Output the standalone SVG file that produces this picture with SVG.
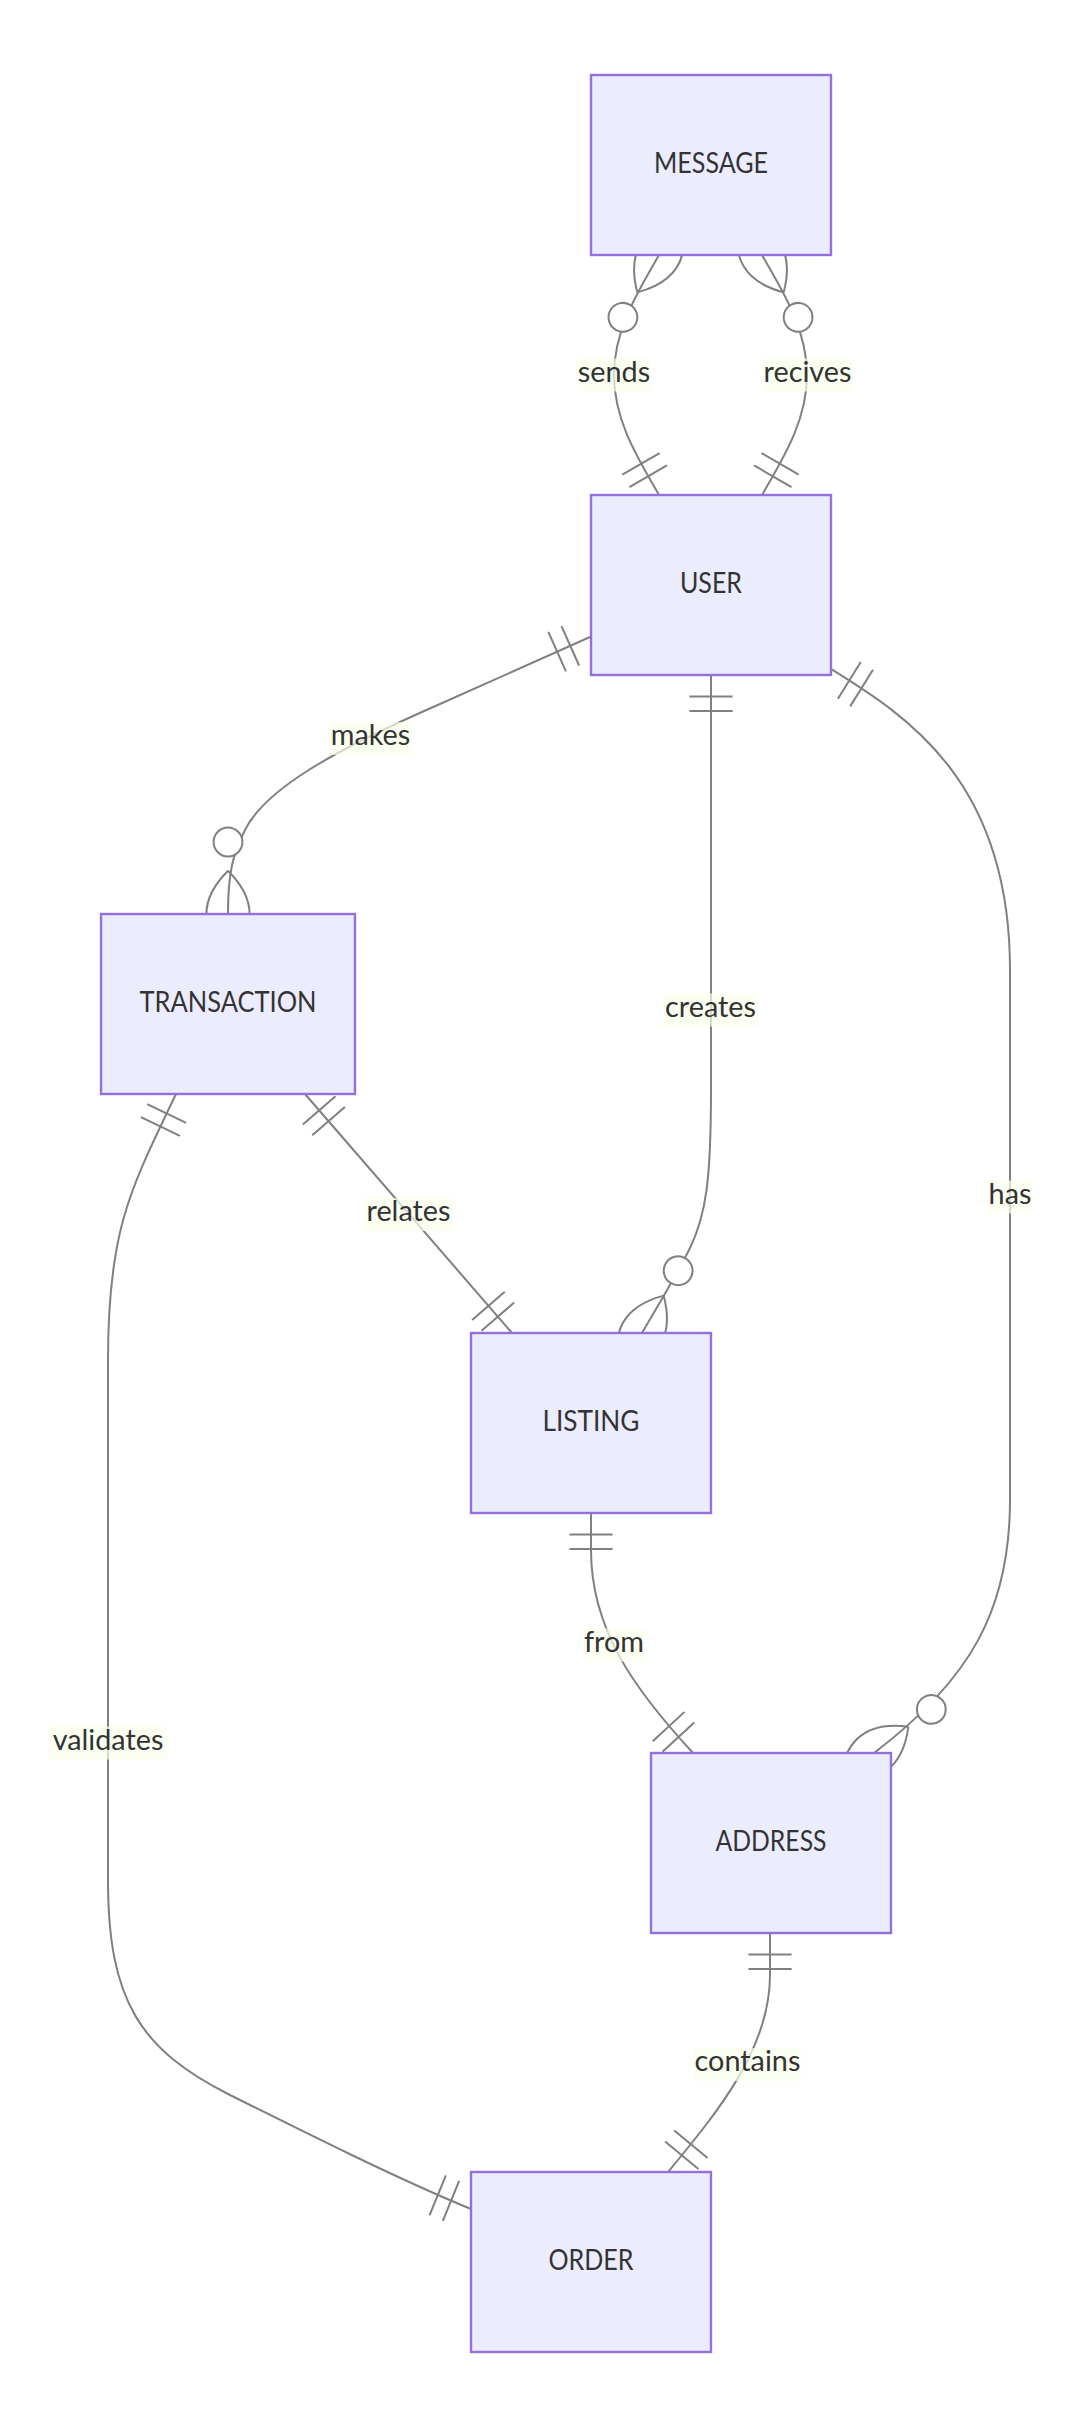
<svg xmlns="http://www.w3.org/2000/svg" width="1080" height="2428" viewBox="0 0 1080 2428">
<style>
.entity rect{fill:#ECECFF;stroke:#9370DB;stroke-width:2.4}
.entity text{font-family:Lato,"Liberation Sans",sans-serif;font-size:28.8px;fill:#333;text-anchor:middle}
.rel{fill:none;stroke:#808080;stroke-width:2;marker-start:url(#one)}
.rel.zm{marker-end:url(#zmany)}
.rel.oo{marker-end:url(#one)}
.lbl rect{fill:#f9ffec;opacity:0.7}
.lbl text{font-family:Lato,"Liberation Sans",sans-serif;font-size:28.8px;fill:#333;text-anchor:middle}
.mk{fill:none;stroke:#808080;stroke-width:2}
</style>
<defs>
<marker id="one" markerUnits="userSpaceOnUse" refX="43.2" refY="21.6" markerWidth="43.2" markerHeight="43.2" orient="auto-start-reverse" overflow="visible">
<path class="mk" d="M7.2,0 L7.2,43.2 M21.6,0 L21.6,43.2"/>
</marker>
<marker id="zmany" markerUnits="userSpaceOnUse" refX="93.6" refY="43.2" markerWidth="136.8" markerHeight="86.4" orient="auto-start-reverse" overflow="visible">
<circle cx="21.6" cy="43.2" r="14.4" fill="#ffffff" stroke="#808080" stroke-width="2"/>
<path class="mk" d="M50.4,43.2 Q93.6,0 136.8,43.2 Q93.6,86.4 50.4,43.2"/>
</marker>
</defs>
<rect width="1080" height="2428" fill="#ffffff"/>
<g id="connectors">
<path id="e-sends" class="rel zm" d="M659,495 C637,457 614,420 614,375 C614,330 637,293 659,255"/>
<path id="e-recives" class="rel zm" d="M762,495 C784,457 807,420 807,375 C807,330 784,293 762,255"/>
<path id="e-makes" class="rel zm" d="M590,637 L440,704 C330,752 265,790 245,830 C233,854 228,872 228,914"/>
<path id="e-creates" class="rel zm" d="M711,675 L711,1090 C711,1180 706,1215 690,1248 C676,1276 660,1302 642,1333"/>
<path id="e-has" class="rel zm" d="M831,669 C905,715 1010,780 1010,970 L1010,1500 C1010,1610 970,1680 874,1753"/>
<path id="e-relates" class="rel oo" d="M305,1094 L512,1333"/>
<path id="e-validates" class="rel oo" d="M176,1094 C130,1190 108,1230 108,1360 L108,1880 C108,2000 140,2050 230,2095 C300,2130 400,2180 471,2209"/>
<path id="e-from" class="rel oo" d="M591,1513 L591,1550 C591,1630 635,1690 693,1753"/>
<path id="e-contains" class="rel oo" d="M770,1933 L770,1975 C770,2050 715,2115 668,2172"/>
<g class="lbl" id="l-sends"><rect x="578.5" y="358.5" width="71" height="33"/><text x="614" y="382">sends</text></g>
<g class="lbl" id="l-recives"><rect x="762.5" y="358.5" width="90" height="33"/><text x="807.5" y="382">recives</text></g>
<g class="lbl" id="l-makes"><rect x="330" y="722" width="81" height="33"/><text x="370.5" y="745">makes</text></g>
<g class="lbl" id="l-relates"><rect x="364" y="1198" width="89" height="33"/><text x="408.5" y="1221">relates</text></g>
<g class="lbl" id="l-creates"><rect x="663" y="993.5" width="95" height="33"/><text x="710.5" y="1017">creates</text></g>
<g class="lbl" id="l-has"><rect x="988.5" y="1180.5" width="43" height="33"/><text x="1010" y="1204">has</text></g>
<g class="lbl" id="l-from"><rect x="583.5" y="1628.5" width="61" height="33"/><text x="614" y="1652">from</text></g>
<g class="lbl" id="l-validates"><rect x="49" y="1726.5" width="118" height="33"/><text x="108" y="1750">validates</text></g>
<g class="lbl" id="l-contains"><rect x="694" y="2048" width="107" height="33"/><text x="747.5" y="2071">contains</text></g>
</g>
<g id="node-MESSAGE" class="entity"><rect x="591" y="75" width="240" height="180"/><text x="711" y="173" textLength="114" lengthAdjust="spacingAndGlyphs">MESSAGE</text></g>
<g id="node-USER" class="entity"><rect x="591" y="495" width="240" height="180"/><text x="711" y="593" textLength="62" lengthAdjust="spacingAndGlyphs">USER</text></g>
<g id="node-TRANSACTION" class="entity"><rect x="101" y="914" width="254" height="180"/><text x="228" y="1012" textLength="177" lengthAdjust="spacingAndGlyphs">TRANSACTION</text></g>
<g id="node-LISTING" class="entity"><rect x="471" y="1333" width="240" height="180"/><text x="591" y="1431" textLength="97" lengthAdjust="spacingAndGlyphs">LISTING</text></g>
<g id="node-ADDRESS" class="entity"><rect x="651" y="1753" width="240" height="180"/><text x="771" y="1851" textLength="111" lengthAdjust="spacingAndGlyphs">ADDRESS</text></g>
<g id="node-ORDER" class="entity"><rect x="471" y="2172" width="240" height="180"/><text x="591" y="2270" textLength="85" lengthAdjust="spacingAndGlyphs">ORDER</text></g>
</svg>
